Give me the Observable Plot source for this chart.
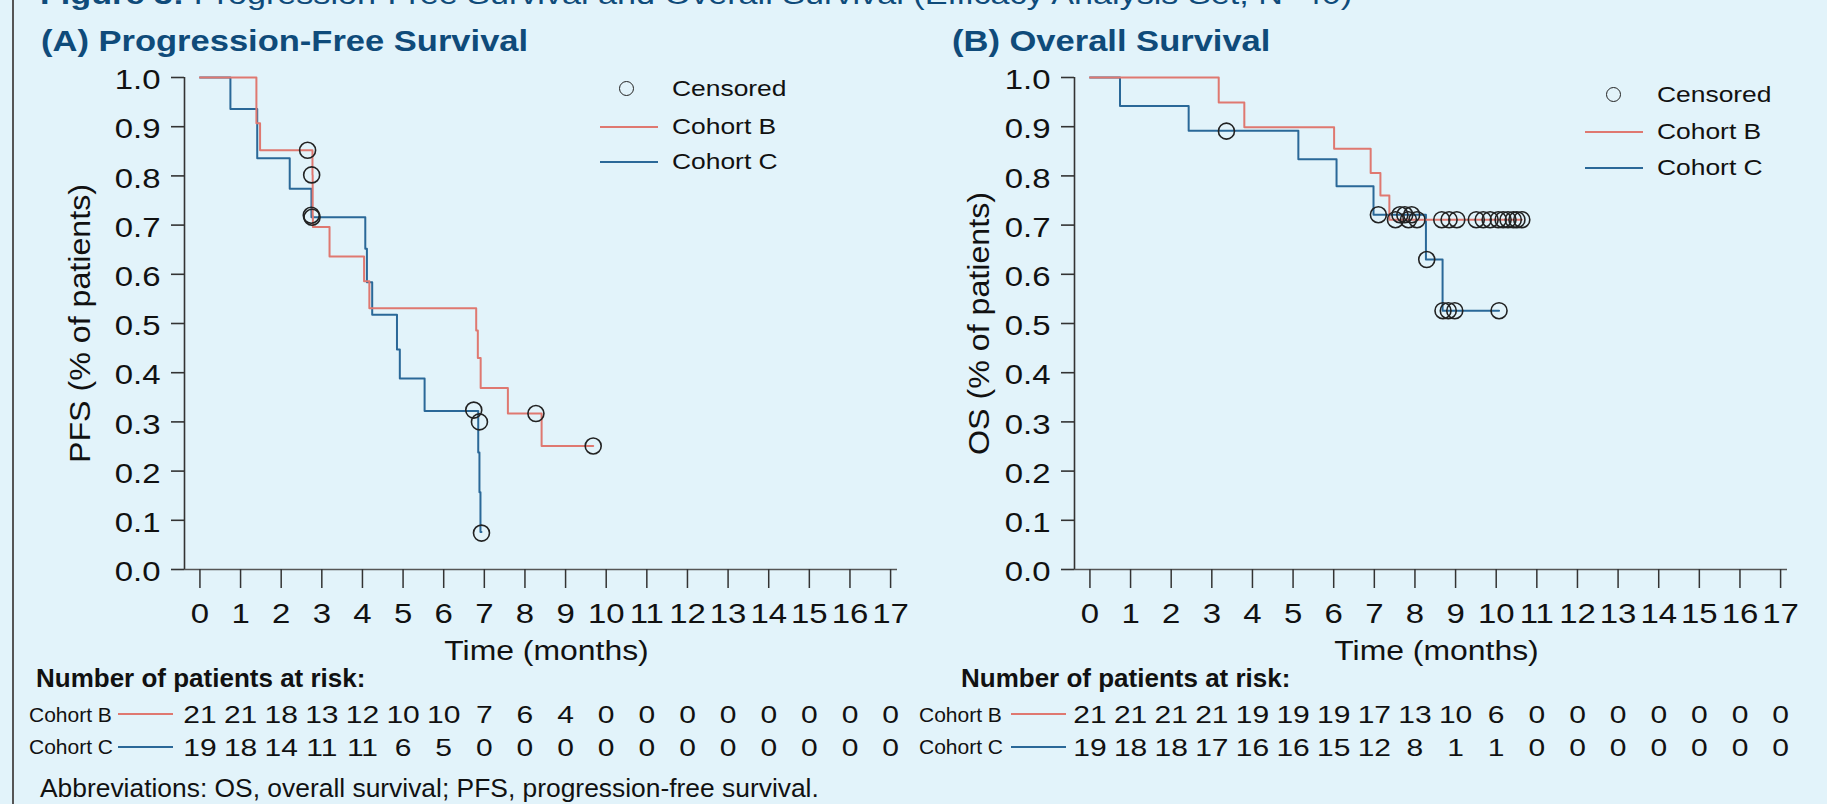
<!DOCTYPE html>
<html><head><meta charset="utf-8">
<script src="https://cdn.jsdelivr.net/npm/d3@7"></script>
<script src="https://cdn.jsdelivr.net/npm/@observablehq/plot@0.6"></script>
<style>
html,body{margin:0;padding:0;background:#E2F3FA;}
body{width:1827px;height:804px;overflow:hidden;position:relative;font-family:"Liberation Sans",Arial,Helvetica,sans-serif;}
.abs{position:absolute;white-space:nowrap;line-height:1;}
.st{display:inline-block;transform-origin:0 50%;}
.plotbox{position:absolute;}
</style></head><body>
<script>
// ---------- data ----------
const xTicks = [0,1,2,3,4,5,6,7,8,9,10,11,12,13,14,15,16,17];
const yTicks = [0,0.1,0.2,0.3,0.4,0.5,0.6,0.7,0.8,0.9,1.0];
const cohorts = ["Cohort B","Cohort C"];

// PFS, Cohort B (step points: time, survival after step)
const pfsB_time = [0, 1.39, 1.48, 2.77, 2.775, 2.78, 3.19, 4.04, 4.17, 6.80, 6.84, 6.91, 7.58, 8.41, 9.68];
const pfsB_surv = [1.0, 0.907, 0.852, 0.802, 0.72, 0.696, 0.636, 0.586, 0.531, 0.486, 0.430, 0.369, 0.317, 0.251, 0.251];
const pfsB_censT = [2.65, 2.75, 2.74, 8.27, 9.68];
const pfsB_censS = [0.852, 0.802, 0.72, 0.317, 0.251];
// PFS, Cohort C
const pfsC_time = [0, 0.75, 1.41, 2.21, 2.745, 4.07, 4.11, 4.24, 4.85, 4.92, 5.53, 6.85, 6.88, 6.905, 6.93];
const pfsC_surv = [1.0, 0.936, 0.836, 0.774, 0.716, 0.652, 0.584, 0.518, 0.447, 0.388, 0.322, 0.238, 0.157, 0.076, 0.076];
const pfsC_censT = [2.76, 6.74, 6.88, 6.93];
const pfsC_censS = [0.716, 0.324, 0.300, 0.074];

// OS, Cohort B
const osB_time = [0, 3.17, 3.80, 6.01, 6.91, 7.15, 7.37, 10.63];
const osB_surv = [1.0, 0.949, 0.899, 0.855, 0.806, 0.760, 0.711, 0.711];
const osB_censT = [7.52, 7.84, 8.05, 8.66, 8.84, 9.03, 9.51, 9.68, 9.85, 10.05, 10.17, 10.29, 10.42, 10.51, 10.63];
const osB_censS = [0.711,0.711,0.711,0.711,0.711,0.711,0.711,0.711,0.711,0.711,0.711,0.711,0.711,0.711,0.711];
// OS, Cohort C
const osC_time = [0, 0.74, 2.43, 5.13, 6.07, 6.98, 8.27, 8.68, 10.07];
const osC_surv = [1.0, 0.942, 0.892, 0.834, 0.779, 0.721, 0.630, 0.526, 0.526];
const osC_censT = [3.36, 7.10, 7.63, 7.75, 7.92, 8.29, 8.69, 8.82, 8.98, 10.07];
const osC_censS = [0.891, 0.721, 0.721, 0.721, 0.721, 0.630, 0.526, 0.526, 0.526, 0.526];

// Number at risk at months 0..17
const pfsRiskB = [21,21,18,13,12,10,10,7,6,4,0,0,0,0,0,0,0,0];
const pfsRiskC = [19,18,14,11,11,6,5,0,0,0,0,0,0,0,0,0,0,0];
const osRiskB  = [21,21,21,21,19,19,19,17,13,10,6,0,0,0,0,0,0,0];
const osRiskC  = [19,18,18,17,16,16,15,12,8,1,1,0,0,0,0,0,0,0];

// ---------- styling / layout ----------
const FONT = '"Liberation Sans", Arial, Helvetica, sans-serif';
const colors = {"Cohort B": "#DF7870", "Cohort C": "#2A6898"};
const titleColor = "#0F4B7A";
const xDomain = [-0.38, 17.17];
const W = 910, H = 680, ML = 184, MR = 13, MT = 77, MB = 111;

const zipPts = (ts, ss) => ts.map((t, i) => ({t, s: ss[i]}));

function stretchTexts(svg, test, k, rotated = false) {
  svg.querySelectorAll("text").forEach(t => {
    if (!test(t.textContent.trim())) return;
    const tr = t.getAttribute("transform") || "";
    if (/rotate/.test(tr) !== rotated) return;
    const x = parseFloat(t.getAttribute("x")) || 0;
    t.setAttribute("transform", `${tr} translate(${x},0) scale(${k},1) translate(${-x},0)`);
  });
}

function mainPlot(cfg) {
  const cens = zipPts(cfg.censBT, cfg.censBS).concat(zipPts(cfg.censCT, cfg.censCS));
  const p = Plot.plot({
    width: W, height: H, marginLeft: ML, marginRight: MR, marginTop: MT, marginBottom: MB,
    style: {background: "none", fontFamily: FONT, fontSize: "27px", color: "#111", overflow: "visible"},
    x: {domain: xDomain},
    y: {domain: [0, 1]},
    marks: [
      Plot.ruleY([0], {stroke: "#555", strokeWidth: 1.6}),
      Plot.ruleX([xDomain[0]], {stroke: "#333", strokeWidth: 1.6}),
      Plot.axisX(xTicks, {tickSize: 19, tickPadding: 15, stroke: "#333", strokeWidth: 1.5, fill: "#111", tickFormat: d => String(d), label: null}),
      Plot.axisY(yTicks, {tickSize: 13, stroke: "#333", strokeWidth: 1.6, fill: "none", label: null}),
      Plot.axisY(yTicks, {tickSize: 0, tickPadding: 24, dy: 3, fill: "#111", tickFormat: d3.format(".1f"), label: null}),
      Plot.text([cfg.yLabel], {frameAnchor: "left", textAnchor: "middle", rotate: -90, dx: cfg.yLabelDx, fontSize: 29, fill: "#111"}),
      Plot.text(["Time (months)"], {frameAnchor: "bottom", textAnchor: "middle", lineAnchor: "bottom", dy: 90, dx: 5.5, fontSize: 28, fill: "#111"}),
      Plot.line(zipPts(cfg.cT, cfg.cS), {x: "t", y: "s", curve: "step-after", stroke: colors["Cohort C"], strokeWidth: 2}),
      Plot.line(zipPts(cfg.bT, cfg.bS), {x: "t", y: "s", curve: "step-after", stroke: colors["Cohort B"], strokeWidth: 2}),
      Plot.dot(cens, {x: "t", y: "s", r: 8, stroke: "#222", strokeWidth: 1.6, fill: "none"})
    ]
  });
  stretchTexts(p, s => /^[\d.]+$/.test(s), 1.22);
  stretchTexts(p, s => s === "Time (months)", 1.14);
  stretchTexts(p, s => s === cfg.yLabel, 1.11, true);
  return p;
}

function riskPlot(rB, rC) {
  const rows = xTicks.map((t, i) => ({t, cohort: "Cohort B", n: rB[i]}))
    .concat(xTicks.map((t, i) => ({t, cohort: "Cohort C", n: rC[i]})));
  const p = Plot.plot({
    width: W, height: 70, marginLeft: ML, marginRight: MR, marginTop: 0, marginBottom: 0,
    style: {background: "none", fontFamily: FONT, fontSize: "24px", color: "#111", overflow: "visible"},
    x: {domain: xDomain, axis: null},
    y: {type: "point", domain: cohorts, range: [15, 48], padding: 0, axis: null},
    marks: [Plot.text(rows, {x: "t", y: "cohort", text: "n", fontSize: 24, fill: "#111"})]
  });
  stretchTexts(p, s => /^[\d]+$/.test(s), 1.25);
  return p;
}

function place(node, left, top) {
  const d = document.createElement("div");
  d.className = "plotbox";
  d.style.left = left + "px"; d.style.top = top + "px";
  d.appendChild(node);
  document.body.appendChild(d);
}

function addText(html, left, baseline, size, {bold = false, color = "#111", k = 1} = {}) {
  const d = document.createElement("div");
  d.className = "abs";
  d.style.left = left + "px";
  d.style.top = (baseline - 0.8465 * size) + "px";
  d.style.fontSize = size + "px";
  d.style.fontWeight = bold ? "bold" : "normal";
  d.style.color = color;
  const s = document.createElement("span");
  s.className = "st";
  s.style.transform = `scaleX(${k})`;
  s.innerHTML = html;
  d.appendChild(s);
  document.body.appendChild(d);
}

function addBox(left, top, w, h, css) {
  const d = document.createElement("div");
  d.style.position = "absolute";
  d.style.left = left + "px"; d.style.top = top + "px";
  d.style.width = w + "px"; d.style.height = h + "px";
  Object.assign(d.style, css);
  document.body.appendChild(d);
}

// left border
addBox(12, 0, 1.5, 804, {background: "#555"});

// figure title (cut off at top)
addText('<b>Figure 3:</b> Progression-Free Survival and Overall Survival (Efficacy Analysis Set, N=40)', 40, 5, 28, {color: titleColor, k: 1.22});

// panel titles
addText('(A) Progression-Free Survival', 41, 52, 29, {bold: true, color: titleColor, k: 1.19});
addText('(B) Overall Survival', 952, 52, 29, {bold: true, color: titleColor, k: 1.19});

// plots
place(mainPlot({bT: pfsB_time, bS: pfsB_surv, cT: pfsC_time, cS: pfsC_surv,
  censBT: pfsB_censT, censBS: pfsB_censS, censCT: pfsC_censT, censCS: pfsC_censS,
  yLabel: "PFS (% of patients)", yLabelDx: -104}), 0, 0);
place(mainPlot({bT: osB_time, bS: osB_surv, cT: osC_time, cS: osC_surv,
  censBT: osB_censT, censBS: osB_censS, censCT: osC_censT, censCS: osC_censS,
  yLabel: "OS (% of patients)", yLabelDx: -95}), 890, 0);

// legends
function legend(cx, cy, lineX, textX, yB, yC) {
  addBox(cx - 8, cy - 8, 13, 13, {border: "1.6px solid #222", borderRadius: "50%"});
  addText("Censored", textX, cy + 8, 22, {k: 1.2});
  addBox(lineX, yB - 1, 58, 2, {background: colors["Cohort B"]});
  addText("Cohort B", textX, yB + 8, 22, {k: 1.2});
  addBox(lineX, yC - 1, 58, 2, {background: colors["Cohort C"]});
  addText("Cohort C", textX, yC + 8, 22, {k: 1.2});
}
legend(627, 89, 600, 672, 127, 162);
legend(1614, 95, 1585, 1657, 132, 168);

// risk tables
function riskTable(offset, labelX, lineX, headX, rB, rC) {
  addText("Number of patients at risk:", headX, 687, 26, {bold: true});
  addText("Cohort B", labelX, 722, 21);
  addBox(lineX, 713, 55, 2, {background: colors["Cohort B"]});
  addText("Cohort C", labelX, 754, 21);
  addBox(lineX, 746, 55, 2, {background: colors["Cohort C"]});
  place(riskPlot(rB, rC), offset, 700);
}
riskTable(0, 29, 118, 36, pfsRiskB, pfsRiskC);
riskTable(890, 919, 1011, 961, osRiskB, osRiskC);

// footnote
addText("Abbreviations: OS, overall survival; PFS, progression-free survival.", 40, 797, 26.4);
</script>
</body></html>
